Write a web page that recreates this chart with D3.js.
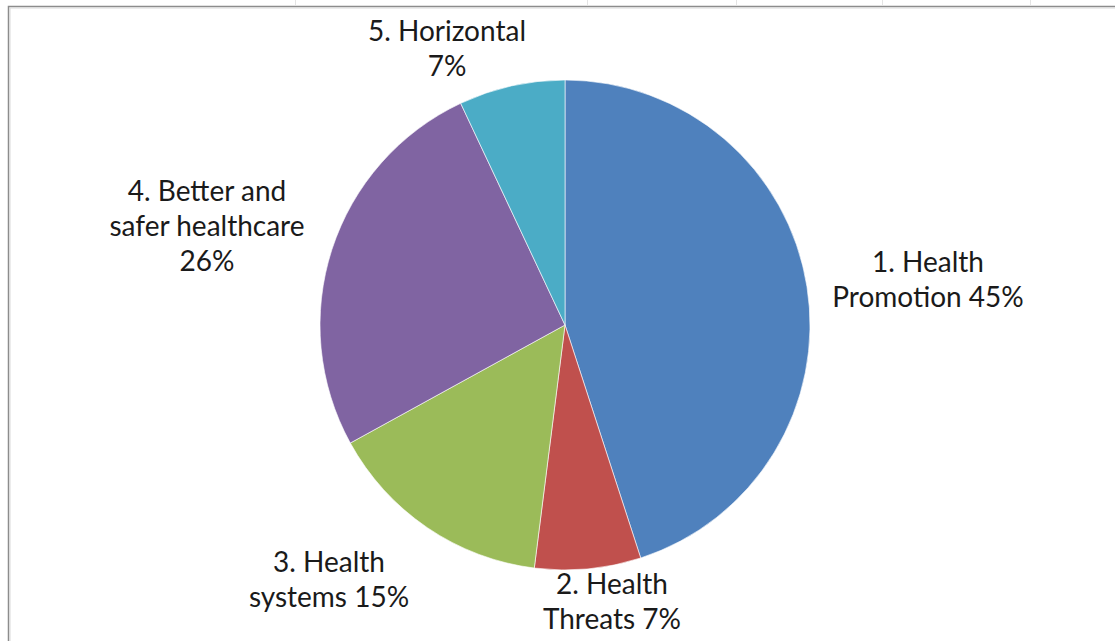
<!DOCTYPE html>
<html>
<head>
<meta charset="utf-8">
<script src="https://cdn.jsdelivr.net/npm/d3@7"></script>
<style>
	html, body { margin: 0; padding: 0; background: #ffffff; }
	svg { display: block; }
</style>
</head>
<body>
<div id="chart"></div>
<script>
// chart data
const categories = ["1. Health Promotion", "2. Health Threats", "3. Health systems",
					"4. Better and safer healthcare", "5. Horizontal"];
const values = [45, 7, 15, 26, 7];
const sliceColors = ["#4F81BD", "#C0504D", "#9BBB59", "#8064A2", "#4BACC6"];
// label lines as they wrap in the picture
const labelLines = [
	["1. Health", "Promotion 45%"],
	["2. Health", "Threats 7%"],
	["3. Health", "systems 15%"],
	["4. Better and", "safer healthcare", "26%"],
	["5. Horizontal", "7%"]
];

function RenderPieChart() {
	const width = 1115;
	const height = 641;
	const cx = 565;
	const cy = 325;
	const radius = 245;
	const lineHeight = 35;
	const text_color = "#1a1a1a";

	// label anchor (center x, first baseline y) for each slice
	const labelPos = [
		{ x: 928, y: 272 },
		{ x: 612, y: 594 },
		{ x: 329, y: 572 },
		{ x: 207, y: 201 },
		{ x: 447, y: 41 }
	];

	var svg = d3.select("#chart").append("svg")
		.attr("width", width)
		.attr("height", height)
		.style("font-family", "Lato, 'Open Sans', sans-serif");

	// spreadsheet column marks above the chart frame
	const colMarks = [295, 587, 736, 882, 1030];
	svg.append("g")
		.selectAll("line")
		.data(colMarks)
		.join("line")
		.attr("x1", d => d + 0.5)
		.attr("x2", d => d + 0.5)
		.attr("y1", 0)
		.attr("y2", 5)
		.attr("stroke", "#e4e4e4");

	// chart frame (top and left edges visible)
	svg.append("path")
		.attr("d", `M8.5,${height} V6.5 H${width}`)
		.attr("fill", "none")
		.attr("stroke", "#8c8c8c")
		.attr("stroke-width", 1.5);
	svg.append("path")
		.attr("d", `M10,${height} V8 H${width}`)
		.attr("fill", "none")
		.attr("stroke", "#d9d9d9")
		.attr("stroke-width", 1);

	var pie = d3.pie()
		.sort(null)
		.value(d => d);

	var arc = d3.arc()
		.innerRadius(0)
		.outerRadius(radius);

	const arcs = pie(values);

	const groupElement = svg.append("g")
		.attr("transform", `translate(${cx},${cy})`);

	groupElement.selectAll("path")
		.data(arcs)
		.join("path")
		.attr("d", arc)
		.attr("fill", (d, i) => sliceColors[i])
		.attr("stroke", "#ffffff")
		.attr("stroke-opacity", 0.6)
		.attr("stroke-width", 1);

	const label = svg.append("g")
		.attr("text-anchor", "middle")
		.style("font-size", "28px")
		.style("fill", text_color)
		.selectAll("text")
		.data(arcs)
		.join("text")
		.attr("x", (d, i) => labelPos[i].x)
		.attr("y", (d, i) => labelPos[i].y);

	label.selectAll("tspan")
		.data((d, i) => labelLines[i].map(t => ({ t: t, x: labelPos[i].x })))
		.join("tspan")
		.attr("x", d => d.x)
		.attr("dy", (d, j) => j == 0 ? 0 : lineHeight)
		.text(d => d.t);
}

RenderPieChart();
</script>
</body>
</html>
